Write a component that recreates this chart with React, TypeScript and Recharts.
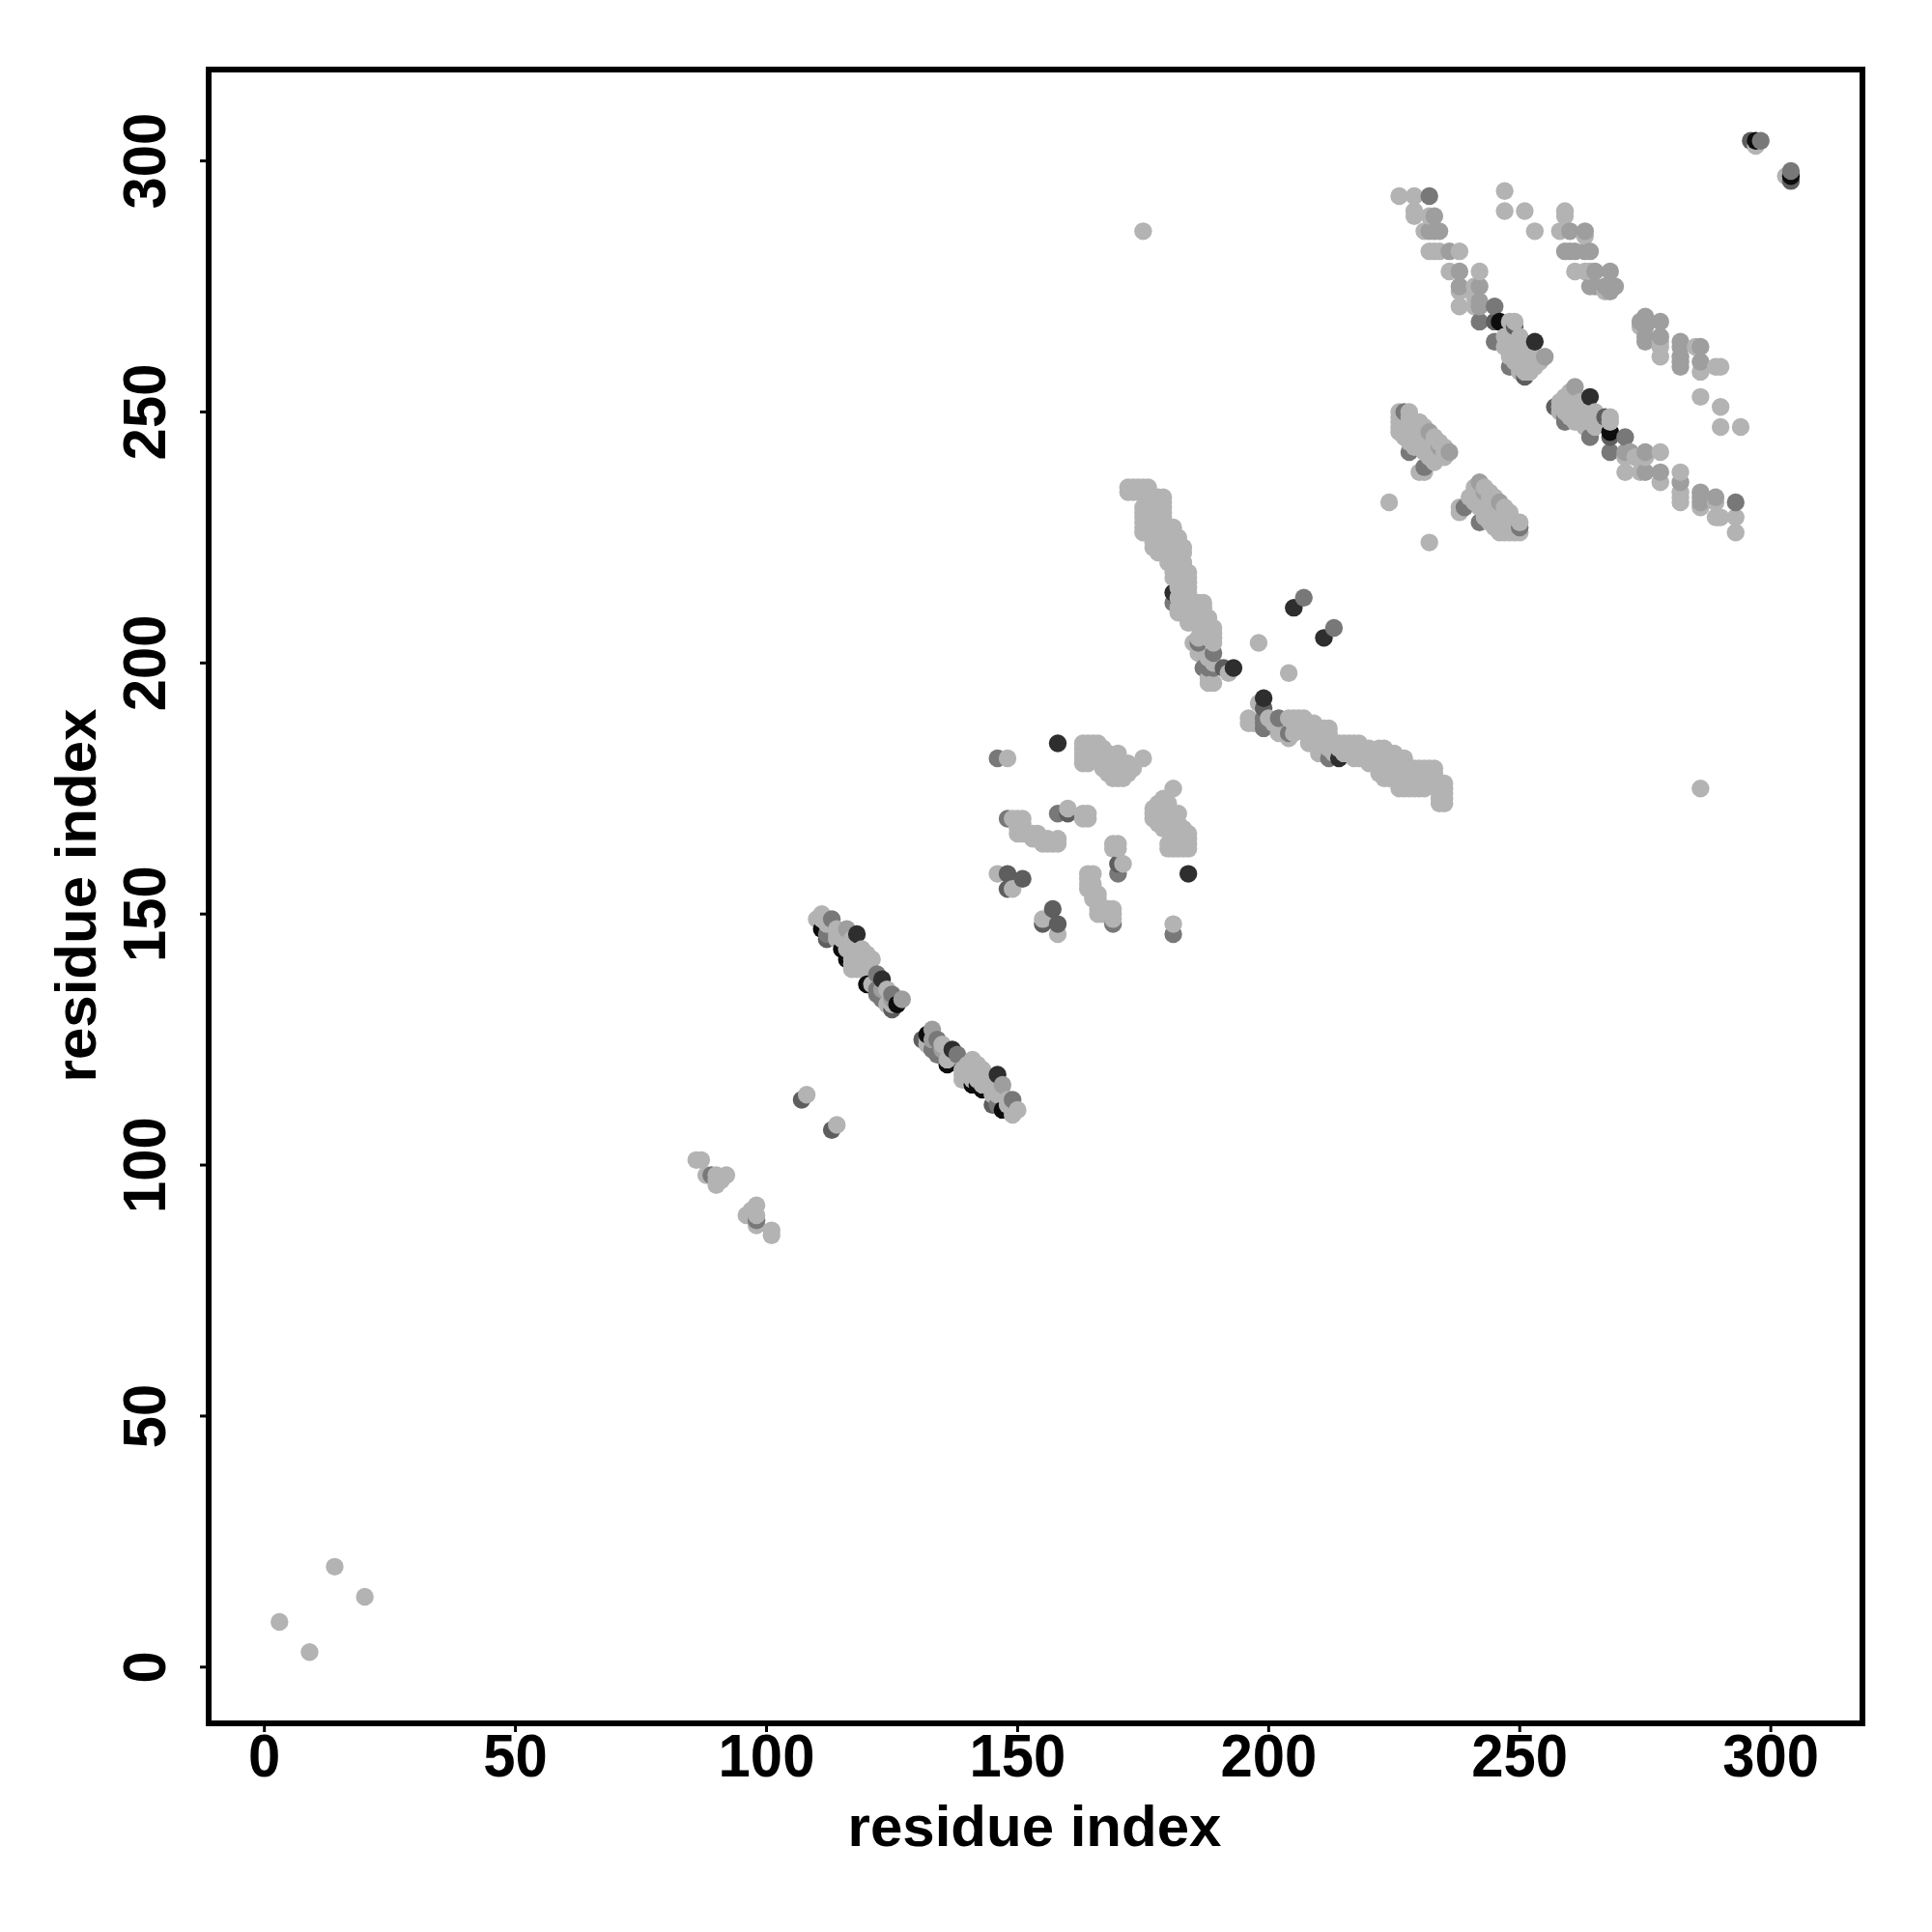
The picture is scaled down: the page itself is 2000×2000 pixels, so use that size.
import { ReferenceArea, Scatter, ScatterChart, XAxis, YAxis } from 'recharts';

type Pair = number[];

const TICKS = [0, 50, 100, 150, 200, 250, 300];
const AXIS_TITLE = 'residue index';

const lightAbove: Pair[] = [
  [3,9],[14,20],[86,101],[87,101],[88,98],[90,98],[92,98],[90,96],[90,97],[91,97],[108,114],
  [110,149],[111,150],[111,149],[112,148],[113,148],[114,147],[114,146],[114,145],[115,146],[115,145],[116,145],[117,145],[116,144],[116,143],[117,144],[117,143],[117,142],[117,141],[117,140],[118,143],[119,143],[118,142],[120,142],[119,141],[118,141],[120,141],[121,141],[120,140],[119,140],[118,140],[119,139],[118,139],[117,139],[121,136],[124,135],[124,132],[125,132],
  [146,158],[148,181],[149,155],[150,169],[149,169],[150,168],[151,168],[150,167],[151,167],[150,166],[151,166],[152,166],[153,166],[154,166],[153,165],[155,165],[155,164],[156,164],[156,165],[157,164],[158,165],[158,164],[151,169],[160,171],[163,170],[164,170],[163,169],[164,169],
  [163,184],[164,184],[165,184],[166,184],[167,183],[163,183],[164,183],[165,183],[166,183],[163,182],[164,182],[165,182],[163,181],[163,180],[164,180],[166,181],[167,181],[167,179],[168,182],[168,180],[168,178],[169,181],[169,179],[169,177],[170,182],[170,180],[170,178],[170,177],[171,180],[171,178],[171,177],[172,180],[172,179],[172,178],[173,179],[175,181],[175,286],
  [172,235],[173,235],[174,235],[175,235],[176,235],[172,234],[173,234],[174,234],[175,234],[176,234],[177,233],[178,233],[179,233],[178,232],[179,232],[175,231],[175,230],[175,229],[176,230],[177,231],[178,231],[179,231],[179,230],[178,229],[177,229],[176,228],[175,228],[175,227],[175,226],[176,226],[177,227],[178,228],[179,229],[180,227],[181,227],[181,226],[180,226],[178,226],[177,225],[177,224],[177,223],[178,225],[179,225],[180,225],[181,225],[182,225],[182,224],[183,223],[183,222],[181,223],[179,223],[178,222],[179,222],[180,221],[180,220],[181,221],[182,221],[183,220],[183,219],[182,219],[181,219],[181,218],[181,217],[182,217],[183,217],[184,218],[184,217],[184,216],[184,215],[184,214],[183,215],[183,214],[182,215],[182,213],[182,211],[182,210],[183,212],[183,210],[184,212],[184,211],[185,212],[186,212],[186,211],[187,212],[187,211],[187,210],[186,209],[185,210],[184,209],[184,208],[185,208],[186,208],[187,208],[188,209],[188,208],[188,207],[189,207],[189,206],[189,205],[189,204],[188,206],[188,205],[187,207],[187,206],[186,205],[185,204],[186,202],[189,200],[188,197],[188,196],[189,196],[188,201],[192,198],[198,204],
  [224,232],[226,293],[229,293],[229,290],[229,289],[232,289],[231,286],[232,282],[233,282],[234,282],[238,282],[236,278],[242,278],[241,275],[238,274],[241,273],[238,271],[241,271],
  [247,294],[247,290],[251,290],[253,286],
  [248,268],[249,268],[247,265],[248,265],[249,265],[250,265],[248,264],[249,264],[250,264],[247,263],[248,263],[249,263],[250,263],[251,263],[248,262],[249,262],[250,262],[251,262],[252,262],[248,261],[249,261],[250,261],[251,261],[252,261],[253,261],[249,260],[250,260],[251,260],[252,260],[253,260],[254,260],[250,259],[251,259],[252,259],[253,259],[250,258],[251,258],[252,258],
  [259,290],[259,289],[258,286],[263,285],[261,278],[263,278],[264,278],[267,274],
  [226,250],[228,250],[226,249],[226,248],[226,247],[226,246],[227,249],[227,248],[227,247],[227,246],[227,245],[228,249],[228,248],[228,247],[228,246],[228,245],[228,244],[229,248],[229,247],[229,246],[229,245],[229,244],[229,243],[230,248],[230,247],[230,246],[230,245],[230,244],[230,243],[230,238],[231,247],[231,246],[231,245],[231,244],[231,243],[231,242],[231,238],[232,245],[232,244],[232,243],[232,242],[232,241],[233,245],[233,244],[233,243],[233,242],[233,241],[233,240],[234,244],[234,242],[234,241],[235,243],[235,242],[235,241],[297,303],
];

const lightBelow: Pair[] = [
  [9,3],[20,14],[101,86],[101,87],[98,88],[98,90],[98,92],[96,90],[97,90],[97,91],[114,108],
  [149,110],[150,111],[149,111],[148,112],[148,113],[147,114],[146,114],[145,114],[146,115],[145,115],[145,116],[145,117],[144,116],[143,116],[144,117],[143,117],[142,117],[141,117],[140,117],[143,118],[143,119],[142,118],[142,120],[141,119],[141,118],[141,120],[141,121],[140,120],[140,119],[140,118],[139,119],[139,118],[139,117],[136,121],[135,124],[132,124],[132,125],
  [158,146],[181,148],[155,149],[169,150],[169,149],[168,150],[168,151],[167,150],[167,151],[166,150],[166,151],[166,152],[166,153],[166,154],[165,153],[165,155],[164,155],[164,156],[165,156],[164,157],[165,158],[164,158],[169,151],[171,160],[170,163],[170,164],[169,163],[169,164],
  [184,163],[184,164],[184,165],[184,166],[183,167],[183,163],[183,164],[183,165],[183,166],[182,163],[182,164],[182,165],[181,163],[180,163],[180,164],[181,166],[181,167],[179,167],[182,168],[180,168],[178,168],[181,169],[179,169],[177,169],[182,170],[180,170],[178,170],[177,170],[180,171],[178,171],[177,171],[180,172],[179,172],[178,172],[179,173],[181,175],[286,175],
  [235,172],[235,173],[235,174],[235,175],[235,176],[234,172],[234,173],[234,174],[234,175],[234,176],[233,177],[233,178],[233,179],[232,178],[232,179],[231,175],[230,175],[229,175],[230,176],[231,177],[231,178],[231,179],[230,179],[229,178],[229,177],[228,176],[228,175],[227,175],[226,175],[226,176],[227,177],[228,178],[229,179],[227,180],[227,181],[226,181],[226,180],[226,178],[225,177],[224,177],[223,177],[225,178],[225,179],[225,180],[225,181],[225,182],[224,182],[223,183],[222,183],[223,181],[223,179],[222,178],[222,179],[221,180],[220,180],[221,181],[221,182],[220,183],[219,183],[219,182],[219,181],[218,181],[217,181],[217,182],[217,183],[218,184],[217,184],[216,184],[215,184],[214,184],[215,183],[214,183],[215,182],[213,182],[211,182],[210,182],[212,183],[210,183],[212,184],[211,184],[212,185],[212,186],[211,186],[212,187],[211,187],[210,187],[209,186],[210,185],[209,184],[208,184],[208,185],[208,186],[208,187],[209,188],[208,188],[207,188],[207,189],[206,189],[205,189],[204,189],[206,188],[205,188],[207,187],[206,187],[205,186],[204,185],[202,186],[200,189],[197,188],[196,188],[196,189],[201,188],[198,192],[204,198],
  [232,224],[293,226],[293,229],[290,229],[289,229],[289,232],[286,231],[282,232],[282,233],[282,234],[282,238],[278,236],[278,242],[275,241],[274,238],[273,241],[271,238],[271,241],
  [294,247],[290,247],[290,251],[286,253],
  [268,248],[268,249],[265,247],[265,248],[265,249],[265,250],[264,248],[264,249],[264,250],[263,247],[263,248],[263,249],[263,250],[263,251],[262,248],[262,249],[262,250],[262,251],[262,252],[261,248],[261,249],[261,250],[261,251],[261,252],[261,253],[260,249],[260,250],[260,251],[260,252],[260,253],[260,254],[259,250],[259,251],[259,252],[259,253],[258,250],[258,251],[258,252],
  [290,259],[289,259],[286,258],[285,263],[278,261],[278,263],[278,264],[274,267],
  [250,226],[250,228],[249,226],[248,226],[247,226],[246,226],[249,227],[248,227],[247,227],[246,227],[245,227],[249,228],[248,228],[247,228],[246,228],[245,228],[244,228],[248,229],[247,229],[246,229],[245,229],[244,229],[243,229],[248,230],[247,230],[246,230],[245,230],[244,230],[243,230],[238,230],[247,231],[246,231],[245,231],[244,231],[243,231],[242,231],[238,231],[245,232],[244,232],[243,232],[242,232],[241,232],[245,233],[244,233],[243,233],[242,233],[241,233],[240,233],[244,234],[242,234],[241,234],[243,235],[242,235],[241,235],[303,297],
];

const softContacts: Pair[] = [
  [116,147],[147,116],[123,135],[135,123],[127,133],[133,127],[125,133],[133,125],
  [232,286],[286,232],[233,286],[286,233],[234,286],[286,234],[233,289],[289,233],[236,282],[282,236],[238,278],[278,238],[238,275],[275,238],[242,275],[275,242],[242,272],[272,242],[242,271],[271,242],[255,261],[261,255],
  [260,286],[286,260],[263,286],[286,263],[259,282],[282,259],[260,282],[282,260],[261,282],[282,261],[263,282],[282,263],[264,282],[282,264],[265,278],[278,265],[268,278],[278,268],[264,275],[275,264],[265,275],[275,265],[268,274],[274,268],[269,275],[275,269],[267,275],[275,267],
  [236,242],[242,236],[232,246],[246,232],[234,243],[243,234],
];

const midContacts: Pair[] = [
  [89,98],[98,89],[112,146],[146,112],[113,149],[149,113],[122,135],[135,122],[122,138],[138,122],[125,134],[134,125],[123,133],[133,123],[122,134],[134,122],
  [146,181],[181,146],[148,169],[169,148],[158,170],[170,158],[181,212],[212,181],[186,204],[204,186],[189,202],[202,189],[187,199],[199,187],[188,199],[199,188],[189,199],[199,189],[207,213],[213,207],
  [232,293],[293,232],[245,271],[271,245],[242,268],[268,242],[245,264],[264,245],[248,259],[259,248],[249,259],[259,249],[227,250],[250,227],[228,242],[242,228],[231,239],[239,231],[298,304],[304,298],
];

const darkContacts: Pair[] = [
  [107,113],[113,107],[112,145],[145,112],[125,131],[131,125],[148,158],[158,148],[151,157],[157,151],[148,155],[155,148],[160,170],[170,160],
  [191,199],[199,191],[245,268],[268,245],[249,267],[267,249],[251,257],[257,251],[296,304],[304,296],
];

const inkContacts: Pair[] = [
  [118,146],[146,118],[123,137],[137,123],[158,184],[184,158],[181,214],[214,181],[193,199],[199,193],[205,211],[211,205],[253,264],[264,253],
];

const blackContacts: Pair[] = [
  [111,147],[147,111],[115,143],[143,115],[116,141],[141,116],[116,142],[142,116],[120,136],[136,120],[126,132],[132,126],
  [246,268],[268,246],[297,304],[304,297],
];

const shaded: [Pair[], string][] = [
  [lightAbove, '#b3b3b3'],
  [lightBelow, '#b3b3b3'],
  [softContacts, '#9e9e9e'],
  [midContacts, '#787878'],
  [darkContacts, '#5e5e5e'],
  [inkContacts, '#2e2e2e'],
  [blackContacts, '#0d0d0d'],
];

// the original plots row by row, so later residues sit on top
const contacts = shaded
  .flatMap(([pairs, fill]) => pairs.map(([x, y]) => ({ x, y, fill })))
  .sort((a, b) => a.x - b.x || a.y - b.y);

const FONT = '"Liberation Sans", Arial, sans-serif';

function ContactDot({ cx, cy, payload }: any) {
  return <circle cx={cx} cy={cy} r={9.2} fill={payload.fill} />;
}

function XTick({ x, y, payload }: any) {
  return (
    <text
      transform={`translate(${x},${y + 46}) scale(0.95,1)`}
      textAnchor="middle"
      fontFamily={FONT}
      fontWeight="bold"
      fontSize={63}
      fill="#000"
    >
      {payload.value}
    </text>
  );
}

function YTick({ x, y, payload }: any) {
  return (
    <text
      transform={`translate(${x - 36.5},${y}) rotate(-90) scale(0.95,1)`}
      textAnchor="middle"
      fontFamily={FONT}
      fontWeight="bold"
      fontSize={63}
      fill="#000"
    >
      {payload.value}
    </text>
  );
}

export default function App() {
  return (
    <div style={{ position: 'absolute', left: 0, top: 0, width: 2000, height: 2000, background: '#fff' }}>
      <ScatterChart width={2000} height={2000} margin={{ top: 72, right: 72, bottom: 0, left: 0 }}>
        <XAxis
          type="number"
          dataKey="x"
          domain={[-11.1, 318.25]}
          ticks={TICKS}
          height={216}
          tickSize={9}
          tickMargin={0}
          interval={0}
          axisLine={false}
          tickLine={{ stroke: '#000', strokeWidth: 3 }}
          tick={<XTick />}
          label={{
            content: () => (
              <text x={1071} y={1911} textAnchor="middle" fontFamily={FONT} fontWeight="bold" fontSize={60} fill="#000">
                {AXIS_TITLE}
              </text>
            ),
          }}
        />
        <YAxis
          type="number"
          dataKey="y"
          domain={[-11.2, 318.2]}
          ticks={TICKS}
          width={216}
          tickSize={9}
          tickMargin={0}
          interval={0}
          axisLine={false}
          tickLine={{ stroke: '#000', strokeWidth: 3 }}
          tick={<YTick />}
          label={{
            content: () => (
              <text
                transform="translate(99,927) rotate(-90)"
                textAnchor="middle"
                fontFamily={FONT}
                fontWeight="bold"
                fontSize={60}
                fill="#000"
              >
                {AXIS_TITLE}
              </text>
            ),
          }}
        />
        <Scatter data={contacts} shape={<ContactDot />} isAnimationActive={false} />
        <ReferenceArea x1={-11.1} x2={318.25} y1={-11.2} y2={318.2} fill="none" stroke="#000" strokeWidth={6} />
      </ScatterChart>
    </div>
  );
}
